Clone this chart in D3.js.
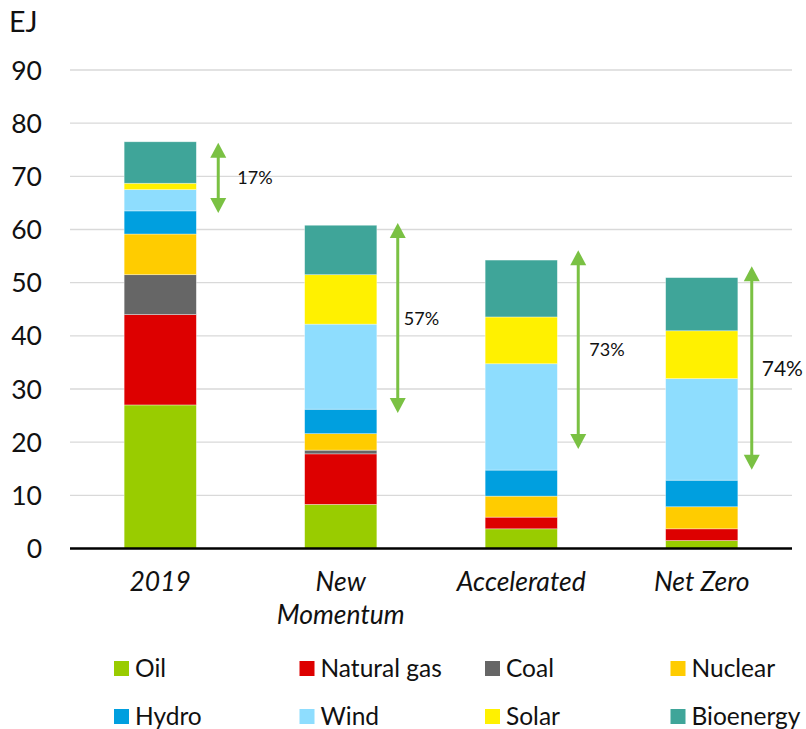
<!DOCTYPE html>
<html>
<head>
<meta charset="utf-8">
<script src="https://cdn.jsdelivr.net/npm/d3@7"></script>
<style>
  body { margin: 0; background: #fff; }
  svg { font-family: Lato, "Open Sans", sans-serif; }
</style>
</head>
<body>
<svg width="806" height="729"></svg>
<script>
// scenarios on the x axis
var scenarios = ["2019", "New Momentum", "Accelerated", "Net Zero"]
var fuels = ["Oil", "Natural gas", "Coal", "Nuclear", "Hydro", "Wind", "Solar", "Bioenergy"]
var fuelColors = ["#99cc00", "#dd0000", "#666666", "#ffcc00", "#009fdf", "#8eddfe", "#fff100", "#3fa599"]

// EJ per fuel, one value per scenario
var oil       = [27.0, 8.3, 3.7, 1.5]
var naturalGas = [17.0, 9.5, 2.2, 2.2]
var coal      = [7.5, 0.7, 0.0, 0.0]
var nuclear   = [7.65, 3.1, 3.95, 4.15]
var hydro     = [4.35, 4.6, 4.9, 5.0]
var wind      = [4.0, 16.0, 20.0, 19.1]
var solar     = [1.2, 9.3, 8.8, 9.0]
var bioenergy = [7.8, 9.3, 10.7, 10.0]

var yTicks = [0, 10, 20, 30, 40, 50, 60, 70, 80, 90]

// green arrows: top / bottom in EJ and their labels
var arrowTop    = [76.3, 61.2, 56.1, 53.1]
var arrowBottom = [63.1, 25.5, 18.7, 14.8]
var arrowLabels = ["17%", "57%", "73%", "74%"]

var series = [oil, naturalGas, coal, nuclear, hydro, wind, solar, bioenergy]
var rows = scenarios.map(function(s, i){
    var r = {scenario: s}
    fuels.forEach(function(f, j){ r[f] = series[j][i] })
    return r
})

var svg = d3.select('svg')

var x = d3.scaleBand()
    .domain(scenarios)
    .range([70, 792])
    .paddingInner(0.6)
    .paddingOuter(0.3)

var y = d3.scaleLinear()
    .domain([0, 90])
    .range([548.5, 70])

var color = d3.scaleOrdinal().domain(fuels).range(fuelColors)

// gridlines
svg.append('g')
    .selectAll('line')
    .data(yTicks.slice(1))
    .enter().append('line')
    .attr('x1', 70).attr('x2', 792)
    .attr('y1', function(d){ return y(d) })
    .attr('y2', function(d){ return y(d) })
    .style('stroke', '#d9d9d9')
    .style('stroke-width', 1.3)

// y labels
svg.append('g')
    .selectAll('text')
    .data(yTicks)
    .enter().append('text')
    .attr('x', 42)
    .attr('y', function(d){ return y(d) })
    .attr('dy', '0.36em')
    .attr('text-anchor', 'end')
    .style('font-size', '26.5px')
    .style('fill', '#111')
    .text(function(d){ return d })

svg.append('text')
    .attr('x', 9).attr('y', 32)
    .style('font-size', '28.5px')
    .style('fill', '#111')
    .text('EJ')

// stacked bars
var stacked = d3.stack().keys(fuels)(rows)

svg.append('g')
    .selectAll('g')
    .data(stacked)
    .enter().append('g')
    .style('fill', function(d){ return color(d.key) })
    .selectAll('rect')
    .data(function(d){ return d.filter(function(p){ return p[1] - p[0] > 0 }) })
    .enter().append('rect')
    .attr('x', function(d){ return x(d.data.scenario) })
    .attr('width', x.bandwidth())
    .attr('y', function(d){ return y(d[1]) })
    .attr('height', function(d){ return y(d[0]) - y(d[1]) })
    .style('stroke', 'rgba(255,255,255,0.5)')
    .style('stroke-width', 0.7)

// x axis line
svg.append('line')
    .attr('x1', 70).attr('x2', 792)
    .attr('y1', y(0)).attr('y2', y(0))
    .style('stroke', '#000')
    .style('stroke-width', 2.5)

// x labels
var xl = svg.append('g')
    .selectAll('text')
    .data(scenarios)
    .enter().append('text')
    .attr('x', function(d){ return x(d) + x.bandwidth() / 2 })
    .attr('y', 591)
    .attr('text-anchor', 'middle')
    .style('font-size', '26.5px')
    .style('font-style', 'italic')
    .style('fill', '#111')
xl.each(function(d){
    var words = d === "New Momentum" ? ["New", "Momentum"] : [d]
    var t = d3.select(this)
    words.forEach(function(w, i){
        t.append('tspan')
            .attr('x', x(d) + x.bandwidth() / 2)
            .attr('dy', i === 0 ? 0 : 33)
            .text(w)
    })
})

// arrows
var arrowColor = '#7ac143'
var arrowDx = [58, 57, 57, 50]
var labelDx = [19, 6, 11, 10]
var labelSize = [18, 18, 18, 21]
var ag = svg.append('g')
scenarios.forEach(function(s, i){
    var ax = x(s) + x.bandwidth() / 2 + arrowDx[i]
    var yt = y(arrowTop[i]), yb = y(arrowBottom[i])
    var hh = 15, hw = 8
    ag.append('line')
        .attr('x1', ax).attr('x2', ax)
        .attr('y1', yt + hh - 1).attr('y2', yb - hh + 1)
        .style('stroke', arrowColor)
        .style('stroke-width', 3)
    ag.append('path')
        .attr('d', d3.line()([[ax, yt], [ax - hw, yt + hh], [ax + hw, yt + hh]]) + 'Z')
        .style('fill', arrowColor)
    ag.append('path')
        .attr('d', d3.line()([[ax, yb], [ax - hw, yb - hh], [ax + hw, yb - hh]]) + 'Z')
        .style('fill', arrowColor)
    ag.append('text')
        .attr('x', ax + labelDx[i])
        .attr('y', (yt + yb) / 2)
        .attr('dy', '0.36em')
        .style('font-size', labelSize[i] + 'px')
        .style('fill', '#111')
        .text(arrowLabels[i])
})

// legend, 4 columns x 2 rows
var legend = svg.append('g')
    .selectAll('g')
    .data(fuels)
    .enter().append('g')
    .attr('transform', function(d, i){
        return 'translate(' + (114 + (i % 4) * 185.5) + ',' + (668 + Math.floor(i / 4) * 48) + ')'
    })
legend.append('rect')
    .attr('x', 0).attr('y', -7)
    .attr('width', 15).attr('height', 15)
    .style('fill', function(d){ return color(d) })
legend.append('text')
    .attr('x', 21)
    .attr('y', 0)
    .attr('dy', '0.36em')
    .style('font-size', '24.5px')
    .style('fill', '#111')
    .text(function(d){ return d })
</script>
</body>
</html>
